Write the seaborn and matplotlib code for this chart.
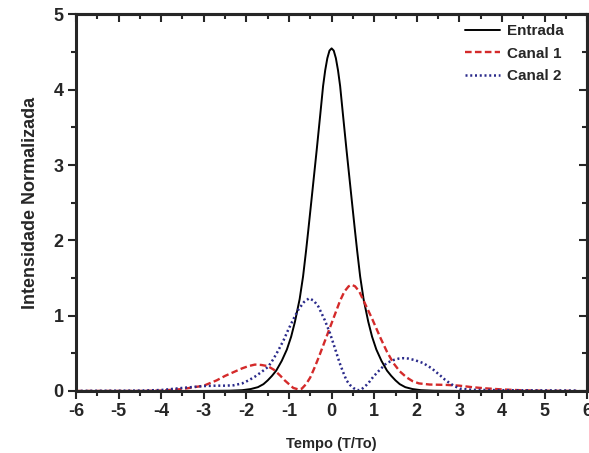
import matplotlib
matplotlib.use("Agg")
import matplotlib.pyplot as plt
from matplotlib.ticker import MultipleLocator
import pandas as pd
import seaborn as sns

# values
entrada_x = [-6, -3, -2.4, -2.1, -1.9, -1.73, -1.6, -1.5, -1.4, -1.3, -1.17, -1.05, -0.95,
             -0.86, -0.75, -0.67, -0.6, -0.55, -0.47, -0.35, -0.27, -0.2, -0.15, -0.1, -0.05,
             0, 0.05, 0.1, 0.15, 0.2, 0.27, 0.35, 0.47, 0.55, 0.6, 0.67, 0.75, 0.86, 0.95,
             1.05, 1.17, 1.3, 1.4, 1.5, 1.6, 1.73, 1.9, 2.1, 2.4, 3, 6]
entrada_y = [0, 0, 0.003, 0.01, 0.025, 0.05, 0.09, 0.14, 0.2, 0.27, 0.4, 0.55, 0.72,
             0.92, 1.22, 1.52, 1.86, 2.12, 2.55, 3.2, 3.65, 4.05, 4.26, 4.42, 4.52,
             4.55, 4.52, 4.42, 4.26, 4.05, 3.65, 3.2, 2.55, 2.12, 1.86, 1.52, 1.22, 0.92, 0.72,
             0.55, 0.4, 0.27, 0.2, 0.14, 0.09, 0.05, 0.025, 0.01, 0.003, 0, 0]

canal1_x = [-6, -4.5, -4.0, -3.5, -3.0, -2.7, -2.5, -2.3, -2.1, -1.95, -1.8, -1.65, -1.5,
            -1.35, -1.2, -1.1, -1.0, -0.9, -0.78, -0.7, -0.6, -0.5, -0.4, -0.3, -0.2, -0.1,
            0.0, 0.1, 0.2, 0.3, 0.4, 0.47, 0.55, 0.65, 0.75, 0.85, 0.95, 1.05, 1.15, 1.3,
            1.45, 1.6, 1.76, 1.9, 2.05, 2.3, 2.7, 3.0, 3.3, 3.6, 4.0, 4.5, 5.0, 5.75]
canal1_y = [0, 0, 0.005, 0.025, 0.07, 0.14, 0.2, 0.25, 0.3, 0.33, 0.35, 0.345, 0.33,
            0.28, 0.2, 0.14, 0.09, 0.04, 0.02, 0.03, 0.09, 0.18, 0.31, 0.45, 0.6, 0.75,
            0.9, 1.05, 1.2, 1.32, 1.39, 1.41, 1.39, 1.32, 1.2, 1.08, 0.96, 0.83, 0.7, 0.52,
            0.37, 0.26, 0.18, 0.13, 0.1, 0.085, 0.08, 0.07, 0.05, 0.035, 0.02, 0.008, 0.002, 0]

canal2_x = [-6, -4.5, -4.0, -3.5, -3.0, -2.7, -2.5, -2.3, -2.1, -1.95, -1.8, -1.65, -1.49,
            -1.37, -1.25, -1.13, -1.02, -0.9, -0.78, -0.65, -0.53, -0.42, -0.31, -0.16,
            -0.04, 0.07, 0.19, 0.27, 0.35, 0.43, 0.51, 0.58, 0.63, 0.7, 0.82, 0.9, 0.98,
            1.13, 1.29, 1.45, 1.58, 1.68, 1.8, 1.95, 2.15, 2.35, 2.54, 2.66, 2.78, 2.9,
            3.01, 3.3, 4.0, 5.75]
canal2_y = [0, 0.005, 0.012, 0.04, 0.065, 0.07, 0.07, 0.075, 0.1, 0.14, 0.19, 0.25, 0.32,
            0.42, 0.54, 0.67, 0.81, 0.95, 1.08, 1.18, 1.23, 1.2, 1.12, 0.94,
            0.77, 0.58, 0.37, 0.25, 0.14, 0.08, 0.04, 0.015, 0.01, 0.02, 0.08, 0.13, 0.19,
            0.28, 0.37, 0.41, 0.43, 0.435, 0.43, 0.41, 0.37, 0.3, 0.21, 0.15, 0.1, 0.06,
            0.03, 0.015, 0.01, 0.005]

sns.set_theme(style="ticks")
plt.rcParams["font.family"] = ["Liberation Sans", "DejaVu Sans"]
plt.rcParams["font.weight"] = "bold"
plt.rcParams["axes.unicode_minus"] = False

fig = plt.figure(figsize=(5.89, 4.53), dpi=100)
ax = fig.add_axes([0.129, 0.137, 0.868, 0.831])

sns.lineplot(x=entrada_x, y=entrada_y, ax=ax, color="black", lw=1.4, label="Entrada")
sns.lineplot(x=canal1_x, y=canal1_y, ax=ax, color="#d42a2a", lw=1.7,
             linestyle=(0, (2.8, 1.4)), label="Canal 1")
sns.lineplot(x=canal2_x, y=canal2_y, ax=ax, color="#2a2a8a", lw=1.8,
             linestyle=(0, (0.8, 1.1)), label="Canal 2")

ax.set_xlim(-6, 6)
ax.set_ylim(0, 5)
ax.xaxis.set_major_locator(MultipleLocator(1))
ax.xaxis.set_minor_locator(MultipleLocator(0.5))
ax.yaxis.set_major_locator(MultipleLocator(1))
ax.yaxis.set_minor_locator(MultipleLocator(0.5))

for s in ax.spines.values():
    s.set_linewidth(2.2)
ax.tick_params(which="major", direction="out", length=6, width=1.5, labelsize=13, pad=3)
ax.tick_params(which="minor", direction="out", length=3.5, width=1.5)

# mirrored ticks on the top and right, pointing inwards
top = ax.secondary_xaxis("top")
top.xaxis.set_major_locator(MultipleLocator(1))
top.xaxis.set_minor_locator(MultipleLocator(0.5))
top.tick_params(which="major", direction="in", length=6, width=1.5, labeltop=False)
top.tick_params(which="minor", direction="in", length=3.5, width=1.5)
right = ax.secondary_yaxis("right")
right.yaxis.set_major_locator(MultipleLocator(1))
right.yaxis.set_minor_locator(MultipleLocator(0.5))
right.tick_params(which="major", direction="in", length=6, width=1.5, labelright=False)
right.tick_params(which="minor", direction="in", length=3.5, width=1.5)
top.spines["top"].set_linewidth(2.2)
right.spines["right"].set_linewidth(2.2)

for lab in ax.get_xticklabels() + ax.get_yticklabels():
    lab.set_fontweight("bold")

ax.set_xlabel("Tempo (T/To)", fontsize=10.5, fontweight="bold", labelpad=12)
ax.set_ylabel("Intensidade Normalizada", fontsize=13, fontweight="bold", labelpad=10)

ax.legend(loc="upper left", bbox_to_anchor=(0.748, 0.99), frameon=False,
          handlelength=2.35, handletextpad=0.45, labelspacing=0.55, borderaxespad=0,
          prop={"weight": "bold", "size": 11})

fig.savefig("out.png", dpi=100)
